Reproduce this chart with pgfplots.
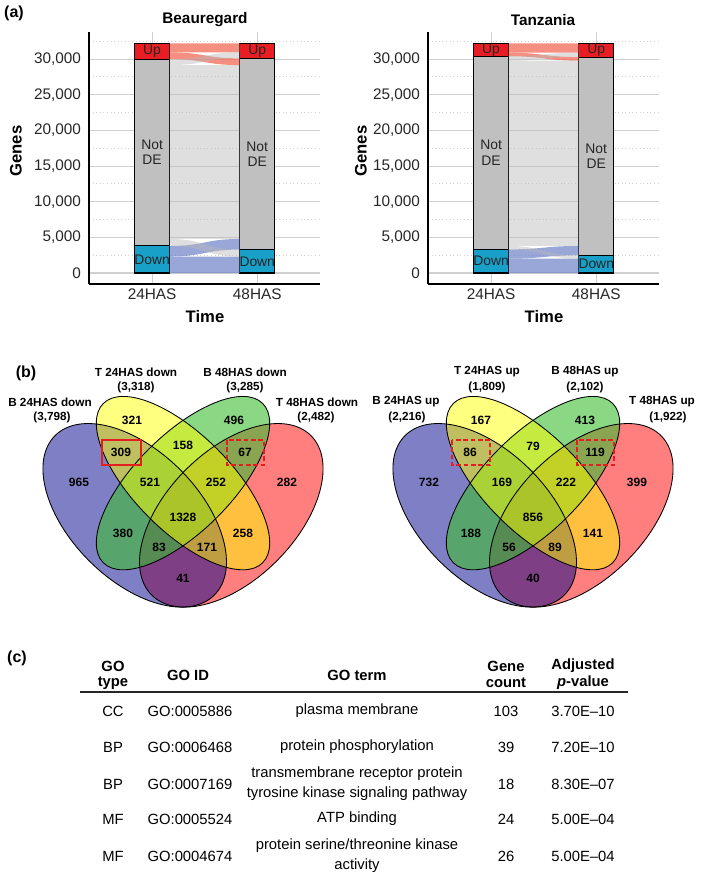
\documentclass[border=0pt]{standalone}
\usepackage{pgfplots}
\pgfplotsset{compat=1.18}
\usepackage{fontspec}
\setmainfont{Liberation Sans}
\definecolor{upc}{RGB}{232,30,36}
\definecolor{notc}{RGB}{192,192,192}
\definecolor{downc}{RGB}{24,160,200}
\definecolor{fred}{RGB}{242,105,85}
\definecolor{fblue}{RGB}{110,128,200}
\definecolor{fgray}{RGB}{185,185,185}
\definecolor{vblue}{RGB}{0,0,139}
\definecolor{vyel}{RGB}{255,255,0}
\definecolor{vgreen}{RGB}{60,190,50}
\definecolor{vred}{RGB}{255,0,0}
\definecolor{gridc}{RGB}{208,208,208}
\definecolor{boxred}{RGB}{228,30,30}

% flow ribbon: style, 24HAS bottom, 24HAS top, 48HAS bottom, 48HAS top
\newcommand{\flow}[5]{\fill[#1] (axis cs:1.1667,#2) .. controls (axis cs:1.5,#2) and (axis cs:1.5,#4) .. (axis cs:1.8333,#4) -- (axis cs:1.8333,#5) .. controls (axis cs:1.5,#5) and (axis cs:1.5,#3) .. (axis cs:1.1667,#3) -- cycle;}

\pgfplotsset{alluv/.style={
  scale only axis, width=173.5bp, height=189bp, anchor=north west,
  xmin=0.4, xmax=2.6, ymin=-1540, ymax=33790,
  ybar stacked, bar width=0.3333,
  xtick={1,2}, xticklabels={24HAS,48HAS},
  ytick={0,5000,10000,15000,20000,25000,30000},
  minor ytick={2500,7500,12500,17500,22500,27500,32500},
  ymajorgrids, yminorgrids, xmajorgrids,
  major grid style={draw=gridc, line width=0.8pt},
  minor grid style={draw=gridc, line width=0.7pt, dotted},
  axis x line*=bottom, axis y line*=left,
  axis line style={-, black, line width=0.8pt},
  major tick length=0pt, minor tick length=0pt,
  tick label style={font=\fontsize{11.5bp}{13bp}\selectfont, text=black!85},
  /pgf/number format/assume math mode=true,
  /pgf/number format/1000 sep={,},
  scaled y ticks=false,
  yticklabel style={xshift=-2.5bp},
  clip=false,
}}
\tikzset{barlab/.style={font=\fontsize{10.4bp}{11.5bp}\selectfont, align=center, text=black!85},
  vnum/.style={font=\bfseries\fontsize{9bp}{10bp}\selectfont},
  vlab/.style={font=\bfseries\fontsize{8.8bp}{10bp}\selectfont},
  tab/.style={font=\fontsize{11.1bp}{15bp}\selectfont, align=center},
  tabh/.style={font=\bfseries\fontsize{11.1bp}{13bp}\selectfont, align=center}}

\begin{document}
\begin{tikzpicture}[x=0.75bp, y=-0.75bp]
\useasboundingbox (0,0) rectangle (709,882);
\coordinate (A1) at (89,32);
\coordinate (A2) at (428,32);

% ---------------- (a) Beauregard ----------------
\begin{axis}[alluv, at={(A1)}]
\flow{fgray,opacity=0.45}{4771}{29151}{4771}{29151}
\flow{fgray,opacity=0.45}{3798}{4771}{2312}{3285}
\flow{fgray,opacity=0.45}{29151}{29984}{30098}{30931}
\flow{fblue,opacity=0.7}{0}{2312}{0}{2312}
\flow{fblue,opacity=0.7}{2312}{3798}{3285}{4771}
\flow{fred,opacity=0.75}{29984}{30931}{29151}{30098}
\flow{fred,opacity=0.75}{30931}{32200}{30931}{32200}
\addplot[fill=downc, draw=black, line width=0.8pt] coordinates {(1,3798) (2,3285)};
\addplot[fill=notc, draw=black, line width=0.8pt] coordinates {(1,26186) (2,26813)};
\addplot[fill=upc, draw=black, line width=0.8pt] coordinates {(1,2216) (2,2102)};
\coordinate (b1d) at (axis cs:1,1899);
\coordinate (b2d) at (axis cs:2,1642);
\coordinate (b1n) at (axis cs:1,16891);
\coordinate (b2n) at (axis cs:2,16692);
\coordinate (b1u) at (axis cs:1,31092);
\coordinate (b2u) at (axis cs:2,31149);
\end{axis}
\node[barlab] at (b1d) {Down};
\node[barlab] at (b2d) {Down};
\node[barlab] at (b1n) {Not\\DE};
\node[barlab] at (b2n) {Not\\DE};
\node[barlab] at (b1u) {Up};
\node[barlab] at (b2u) {Up};

% ---------------- (a) Tanzania ----------------
\begin{axis}[alluv, at={(A2)}]
\flow{fgray,opacity=0.45}{3791}{29777}{3791}{29777}
\flow{fgray,opacity=0.45}{3318}{3791}{2009}{2482}
\flow{fgray,opacity=0.45}{29777}{30391}{30278}{30892}
\flow{fblue,opacity=0.7}{0}{2009}{0}{2009}
\flow{fblue,opacity=0.7}{2009}{3318}{2482}{3791}
\flow{fred,opacity=0.75}{30391}{30892}{29777}{30278}
\flow{fred,opacity=0.75}{30892}{32200}{30892}{32200}
\addplot[fill=downc, draw=black, line width=0.8pt] coordinates {(1,3318) (2,2482)};
\addplot[fill=notc, draw=black, line width=0.8pt] coordinates {(1,27073) (2,27796)};
\addplot[fill=upc, draw=black, line width=0.8pt] coordinates {(1,1809) (2,1922)};
\coordinate (t1d) at (axis cs:1,1659);
\coordinate (t2d) at (axis cs:2,1241);
\coordinate (t1n) at (axis cs:1,16854);
\coordinate (t2n) at (axis cs:2,16380);
\coordinate (t1u) at (axis cs:1,31296);
\coordinate (t2u) at (axis cs:2,31239);
\end{axis}
\node[barlab] at (t1d) {Down};
\node[barlab] at (t2d) {Down};
\node[barlab] at (t1n) {Not\\DE};
\node[barlab] at (t2n) {Not\\DE};
\node[barlab] at (t1u) {Up};
\node[barlab] at (t2u) {Up};

% ---------------- (b) Venn diagrams (pixel frame) ----------------
\begin{axis}[at={(0,0)}, anchor=north west, hide axis, x=0.75bp, y=0.75bp,
  xmin=0, xmax=709, ymin=0, ymax=882, y dir=reverse, clip=false]
% left
\fill[vred, opacity=0.5, rotate around={45:(axis cs:231.3,515.3)}] (axis cs:231.3,515.3) ellipse [x radius=84.5bp, y radius=48.3bp];
\fill[vblue, opacity=0.5, rotate around={135:(axis cs:134.7,515.3)}] (axis cs:134.7,515.3) ellipse [x radius=84.5bp, y radius=48.3bp];
\fill[vgreen, opacity=0.6, rotate around={45:(axis cs:183,483.1)}] (axis cs:183,483.1) ellipse [x radius=84.5bp, y radius=36.2bp];
\fill[vyel, opacity=0.5, rotate around={135:(axis cs:183,483.1)}] (axis cs:183,483.1) ellipse [x radius=84.5bp, y radius=36.2bp];
\draw[black, line width=0.65pt, rotate around={45:(axis cs:231.3,515.3)}] (axis cs:231.3,515.3) ellipse [x radius=84.5bp, y radius=48.3bp];
\draw[black, line width=0.65pt, rotate around={135:(axis cs:134.7,515.3)}] (axis cs:134.7,515.3) ellipse [x radius=84.5bp, y radius=48.3bp];
\draw[black, line width=0.65pt, rotate around={45:(axis cs:183,483.1)}] (axis cs:183,483.1) ellipse [x radius=84.5bp, y radius=36.2bp];
\draw[black, line width=0.65pt, rotate around={135:(axis cs:183,483.1)}] (axis cs:183,483.1) ellipse [x radius=84.5bp, y radius=36.2bp];
% right
\fill[vred, opacity=0.5, rotate around={45:(axis cs:581.3,515.3)}] (axis cs:581.3,515.3) ellipse [x radius=84.5bp, y radius=48.3bp];
\fill[vblue, opacity=0.5, rotate around={135:(axis cs:484.7,515.3)}] (axis cs:484.7,515.3) ellipse [x radius=84.5bp, y radius=48.3bp];
\fill[vgreen, opacity=0.6, rotate around={45:(axis cs:533,483.1)}] (axis cs:533,483.1) ellipse [x radius=84.5bp, y radius=36.2bp];
\fill[vyel, opacity=0.5, rotate around={135:(axis cs:533,483.1)}] (axis cs:533,483.1) ellipse [x radius=84.5bp, y radius=36.2bp];
\draw[black, line width=0.65pt, rotate around={45:(axis cs:581.3,515.3)}] (axis cs:581.3,515.3) ellipse [x radius=84.5bp, y radius=48.3bp];
\draw[black, line width=0.65pt, rotate around={135:(axis cs:484.7,515.3)}] (axis cs:484.7,515.3) ellipse [x radius=84.5bp, y radius=48.3bp];
\draw[black, line width=0.65pt, rotate around={45:(axis cs:533,483.1)}] (axis cs:533,483.1) ellipse [x radius=84.5bp, y radius=36.2bp];
\draw[black, line width=0.65pt, rotate around={135:(axis cs:533,483.1)}] (axis cs:533,483.1) ellipse [x radius=84.5bp, y radius=36.2bp];
% region counts
\addplot[draw=none, mark=none, nodes near coords, point meta=explicit symbolic,
  nodes near coords align={center}, every node near coord/.append style={vnum, anchor=center}]
  table[meta=label] {
x y label
132 420 321
234 420 496
121 452 309
183 445 158
245 452 67
79 482 965
150 482 521
216 482 252
287 482 282
183 517 1328
123 533 380
243 533 258
159 547 83
207 547 171
183 578 41
481 420 167
585 420 413
470 452 86
533 446 79
595 452 119
429 482 732
502 482 169
566 482 222
637 482 399
533 517 856
471 533 188
593 533 141
509 547 56
555 547 89
533 578 40
};
\end{axis}

% Venn set labels
\node[vlab] at (50,402) {B 24HAS down};
\node[vlab] at (52,417) {(3,798)};
\node[vlab] at (136,372) {T 24HAS down};
\node[vlab] at (136,387) {(3,318)};
\node[vlab] at (245,372) {B 48HAS down};
\node[vlab] at (245,387) {(3,285)};
\node[vlab] at (317,402) {T 48HAS down};
\node[vlab] at (316,417) {(2,482)};
\node[vlab] at (406,402) {B 24HAS up};
\node[vlab] at (407,417) {(2,216)};
\node[vlab] at (487,372) {T 24HAS up};
\node[vlab] at (487,387) {(1,809)};
\node[vlab] at (585,372) {B 48HAS up};
\node[vlab] at (585,387) {(2,102)};
\node[vlab] at (662,402) {T 48HAS up};
\node[vlab] at (668,417) {(1,922)};
% highlight boxes
\draw[boxred, line width=1.4pt] (102,440) rectangle (141,465);
\draw[boxred, line width=1.4pt, dash pattern=on 3.5bp off 2bp] (227,440) rectangle (264,465);
\draw[boxred, line width=1.4pt, dash pattern=on 3.5bp off 2bp] (452,440) rectangle (490,465);
\draw[boxred, line width=1.4pt, dash pattern=on 3.5bp off 2bp] (577,440) rectangle (614,465);

% panel texts (a)
\node[font=\bfseries\fontsize{12bp}{14bp}\selectfont] at (14,13) {(a)};
\node[font=\bfseries\fontsize{11.5bp}{13bp}\selectfont] at (205,20) {Beauregard};
\node[font=\bfseries\fontsize{11.5bp}{13bp}\selectfont] at (543,20) {Tanzania};
\node[font=\bfseries\fontsize{12.5bp}{14bp}\selectfont, rotate=90] at (16,151) {Genes};
\node[font=\bfseries\fontsize{12.5bp}{14bp}\selectfont, rotate=90] at (361,151) {Genes};
\node[font=\bfseries\fontsize{12.5bp}{14bp}\selectfont] at (205,317) {Time};
\node[font=\bfseries\fontsize{12.5bp}{14bp}\selectfont] at (544,317) {Time};
\node[font=\bfseries\fontsize{12bp}{14bp}\selectfont] at (26,373) {(b)};
\node[font=\bfseries\fontsize{12bp}{14bp}\selectfont] at (17,658) {(c)};

% ---------------- (c) table ----------------
\node[tabh] at (113,666) {GO};
\node[tabh] at (113,683) {type};
\node[tabh] at (188,675) {GO ID};
\node[tabh] at (357,675) {GO term};
\node[tabh] at (506,666) {Gene};
\node[tabh] at (506,683) {count};
\node[tabh] at (583,666) {Adjusted};
\node[tabh] at (583,683) {\textit{p}-value};
\draw[line width=1.5pt, black!85] (80,692) -- (628,692);
% rows
\node[tab] at (113,711) {CC};
\node[tab] at (190,711) {GO:0005886};
\node[tab] at (357,711) {plasma membrane};
\node[tab] at (506,711) {103};
\node[tab] at (583,711) {3.70E\textendash10};
\node[tab] at (113,747) {BP};
\node[tab] at (190,747) {GO:0006468};
\node[tab] at (357,747) {protein phosphorylation};
\node[tab] at (506,747) {39};
\node[tab] at (583,747) {7.20E\textendash10};
\node[tab] at (113,784) {BP};
\node[tab] at (190,784) {GO:0007169};
\node[tab] at (357,784) {transmembrane receptor protein\\tyrosine kinase signaling pathway};
\node[tab] at (506,784) {18};
\node[tab] at (583,784) {8.30E\textendash07};
\node[tab] at (113,819) {MF};
\node[tab] at (190,819) {GO:0005524};
\node[tab] at (357,819) {ATP binding};
\node[tab] at (506,819) {24};
\node[tab] at (583,819) {5.00E\textendash04};
\node[tab] at (113,856) {MF};
\node[tab] at (190,856) {GO:0004674};
\node[tab] at (357,856) {protein serine/threonine kinase\\activity};
\node[tab] at (506,856) {26};
\node[tab] at (583,856) {5.00E\textendash04};
\end{tikzpicture}
\end{document}
